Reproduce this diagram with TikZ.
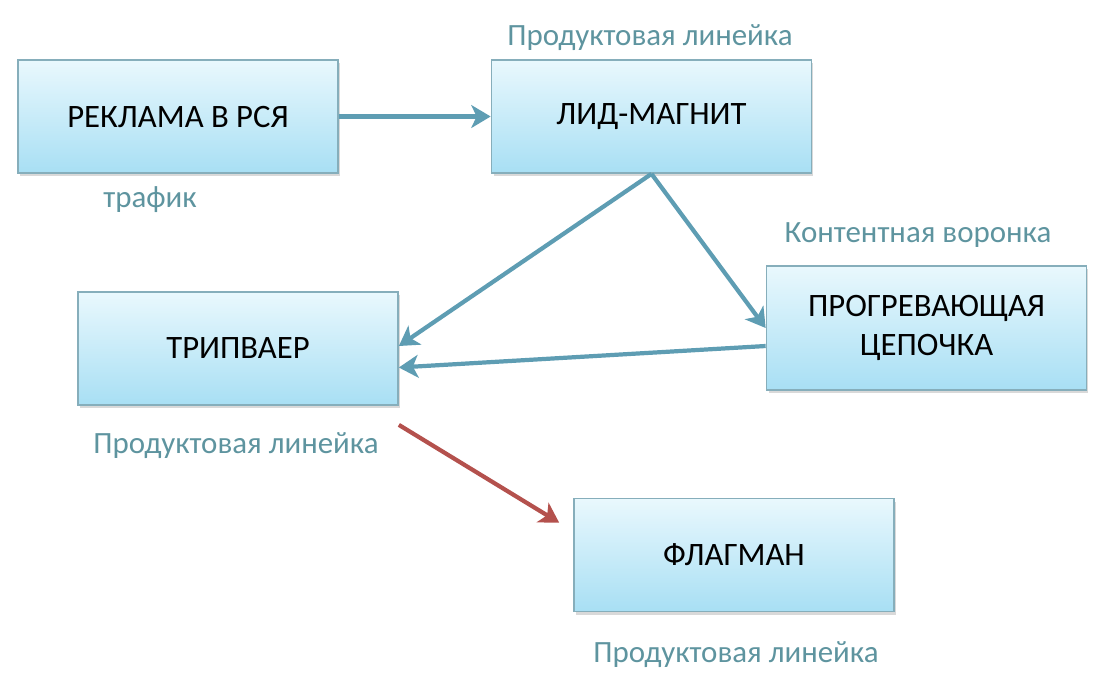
\documentclass[tikz,border=0pt]{standalone}
\usepackage{fontspec}
\setmainfont{Carlito}
\usetikzlibrary{arrows.meta,shadows}
\definecolor{funnelBoxTop}{HTML}{E9F8FD}
\definecolor{funnelBoxBot}{HTML}{A8DFF4}
\definecolor{funnelEdge}{HTML}{86AEBB}
\definecolor{funnelArrow}{HTML}{5E9DB3}
\definecolor{funnelRed}{HTML}{B4514D}
\definecolor{funnelNote}{HTML}{5E949F}
\tikzset{
  stage/.style={draw=funnelEdge, line width=1pt, top color=funnelBoxTop, bottom color=funnelBoxBot,
    minimum width=6.4cm, minimum height=2.26cm, align=center, font=\fontsize{18.6}{22}\selectfont,
    drop shadow={shadow xshift=0.04cm, shadow yshift=-0.06cm, opacity=0.3}},
  note/.style={text=funnelNote, font=\fontsize{17.6}{20}\selectfont},
  flow/.style={draw=funnelArrow, line width=2.4pt, -{Stealth[length=11pt, width=13pt, inset=3pt]}},
  redflow/.style={flow, draw=funnelRed}
}

\begin{document}
\begin{tikzpicture}[x=0.02cm, y=-0.02cm]
  \useasboundingbox (0,0) rectangle (1110,698);
  % stages
  \node[stage] (ads) at (178,116.5) {РЕКЛАМА В РСЯ};
  \node[stage] (magnet) at (651.5,116.5) {ЛИД-МАГНИТ};
  \node[stage] (trip) at (238,348.5) {ТРИПВАЕР};
  \node[stage, minimum height=2.48cm] (chain) at (926.5,328) {ПРОГРЕВАЮЩАЯ\\ЦЕПОЧКА};
  \node[stage] (flag) at (734,555) {ФЛАГМАН};
  % captions
  \node[note] (n1) at (650,38) {Продуктовая линейка};
  \node[note] (n2) at (150,200) {трафик};
  \node[note] (n3) at (918,235) {Контентная воронка};
  \node[note] (n4) at (236,446) {Продуктовая линейка};
  \node[note] (n5) at (736,655) {Продуктовая линейка};
  % arrows
  \draw[flow] (ads.east) -- (magnet.west);
  \draw[flow] (magnet.south) -- ([yshift=0.05cm]trip.east);
  \draw[flow] (magnet.south) -- (chain.west);
  \draw[flow] ([yshift=-0.36cm]chain.west) -- ([yshift=-0.38cm]trip.east);
  \draw[redflow] ([yshift=-0.38cm]trip.south east) -- ([xshift=-0.28cm,yshift=-0.5cm]flag.north west);
\end{tikzpicture}
\end{document}
